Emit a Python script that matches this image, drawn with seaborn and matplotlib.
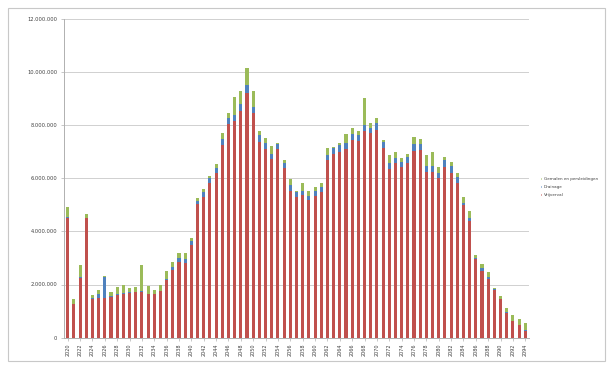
import numpy as np
import pandas as pd
import matplotlib
matplotlib.use("Agg")
import matplotlib.pyplot as plt
from matplotlib.patches import Patch, Rectangle
from matplotlib.ticker import FuncFormatter
import seaborn as sns

# ---------------- data (values in millions) ----------------
years = list(range(2020, 2095))
vrijverval = [4.52, 1.26, 2.24, 4.50, 1.45, 1.51, 1.51, 1.53, 1.61, 1.66,
              1.68, 1.70, 1.72, 1.63, 1.63, 1.74, 2.16, 2.55, 2.84, 2.80,
              3.49, 5.03, 5.31, 5.81, 6.21, 7.25, 8.03, 8.17, 8.55, 9.22,
              8.47, 7.38, 7.12, 6.72, 7.09, 6.38, 5.53, 5.31, 5.37, 5.18,
              5.33, 5.50, 6.69, 6.90, 7.00, 7.09, 7.44, 7.39, 7.78, 7.69,
              7.82, 7.13, 6.34, 6.56, 6.41, 6.59, 7.04, 7.07, 6.25, 6.25,
              6.00, 6.44, 6.21, 5.81, 4.99, 4.40, 2.95, 2.52, 2.19, 1.79,
              1.44, 0.94, 0.62, 0.47, 0.26]
drainage = [0.03, 0.02, 0.03, 0.02, 0.03, 0.12, 0.78, 0.03, 0.03, 0.03,
            0.03, 0.03, 0.03, 0.03, 0.03, 0.03, 0.05, 0.10, 0.16, 0.15,
            0.13, 0.12, 0.17, 0.19, 0.19, 0.22, 0.23, 0.21, 0.25, 0.29,
            0.23, 0.25, 0.22, 0.20, 0.20, 0.18, 0.22, 0.16, 0.15, 0.17,
            0.19, 0.18, 0.19, 0.23, 0.25, 0.23, 0.23, 0.24, 0.23, 0.22,
            0.27, 0.25, 0.22, 0.19, 0.22, 0.22, 0.25, 0.22, 0.21, 0.21,
            0.19, 0.25, 0.25, 0.23, 0.09, 0.12, 0.05, 0.10, 0.09, 0.03,
            0.03, 0.03, 0.02, 0.02, 0.02]
gemalen = [0.38, 0.17, 0.47, 0.13, 0.13, 0.17, 0.02, 0.16, 0.27, 0.28,
           0.14, 0.18, 0.98, 0.29, 0.12, 0.20, 0.30, 0.18, 0.20, 0.25,
           0.12, 0.10, 0.10, 0.09, 0.14, 0.22, 0.19, 0.69, 0.50, 0.66,
           0.60, 0.15, 0.18, 0.30, 0.03, 0.13, 0.22, 0.05, 0.31, 0.18,
           0.16, 0.15, 0.25, 0.06, 0.09, 0.34, 0.21, 0.16, 1.00, 0.16,
           0.17, 0.06, 0.32, 0.25, 0.12, 0.11, 0.28, 0.19, 0.42, 0.52,
           0.25, 0.11, 0.14, 0.15, 0.20, 0.26, 0.10, 0.15, 0.18, 0.06,
           0.10, 0.16, 0.21, 0.20, 0.26]
series_names = ["Vrijverval", "Drainage", "Gemalen en persleidingen"]
colors = ["#C0504D", "#4F81BD", "#9BBB59"]
y_ticks = [0, 2e6, 4e6, 6e6, 8e6, 10e6, 12e6]

# ---------------- table ----------------
df = pd.DataFrame({
    "jaar": [str(y) for y in years],
    "v": np.array(vrijverval) * 1e6,
    "d": np.array(drainage) * 1e6,
    "g": np.array(gemalen) * 1e6,
})
df["top_v"] = df["v"]
df["top_d"] = df["v"] + df["d"]
df["top_g"] = df["v"] + df["d"] + df["g"]

sns.set_style("white")
plt.rcParams["font.family"] = ["DejaVu Sans"]

W, H = 612, 371
fig = plt.figure(figsize=(W / 100, H / 100), dpi=100)
fig.patch.set_facecolor("white")

# outer chart border
fig.patches.append(Rectangle((8 / W, 1 - 361 / H), 597 / W, 353 / H,
                             transform=fig.transFigure, fill=False,
                             edgecolor="#c8c8c8", linewidth=0.8))

ax = fig.add_axes([64 / W, 1 - 337.6 / H, (529 - 64) / W, (337.6 - 19) / H])

order = df["jaar"].tolist()
for col, c in zip(["top_g", "top_d", "top_v"], [colors[2], colors[1], colors[0]]):
    sns.barplot(data=df, x="jaar", y=col, order=order, color=c, width=0.5,
                saturation=1, ax=ax, linewidth=0, zorder=3)

ax.set_ylim(0, 12e6)
ax.set_xlim(-0.6, len(years) - 0.4)
ax.set_yticks(y_ticks)
ax.yaxis.set_major_formatter(FuncFormatter(
    lambda v, p: "0" if v == 0 else f"{int(v):,}".replace(",", ".")))
ax.set_xticks(range(0, len(years), 2))
ax.set_xticklabels([str(y) for y in years[::2]], rotation=90)
ax.grid(axis="y", color="#d0d0d0", linewidth=0.7, zorder=0)
ax.set_axisbelow(True)
ax.set_xlabel("")
ax.set_ylabel("")

for s in ["top", "right"]:
    ax.spines[s].set_visible(False)
for s in ["left", "bottom"]:
    ax.spines[s].set_color("#b0b0b0")
    ax.spines[s].set_linewidth(0.7)

ax.tick_params(axis="y", labelsize=3.7, length=2, width=0.5, color="#b0b0b0",
               pad=3, labelcolor="#404040", left=True)
ax.tick_params(axis="x", labelsize=3.5, length=2, width=0.5, color="#b0b0b0",
               pad=2, labelcolor="#404040", bottom=True)

handles = [Patch(facecolor=colors[2], label=series_names[2]),
           Patch(facecolor=colors[1], label=series_names[1]),
           Patch(facecolor=colors[0], label=series_names[0])]
fig.legend(handles=handles, loc="upper left",
           bbox_to_anchor=(536 / W, 1 - 173 / H), frameon=False,
           fontsize=3.0, handlelength=0.6, handleheight=0.6,
           handletextpad=0.4, labelspacing=1.0, labelcolor="#404040")

fig.savefig("out.png", dpi=100, facecolor="white")
